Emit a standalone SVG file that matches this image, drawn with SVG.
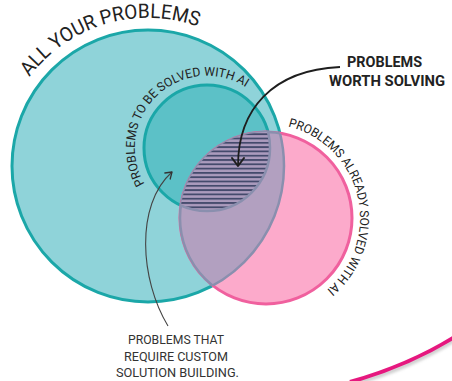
<svg xmlns="http://www.w3.org/2000/svg" width="452" height="381" viewBox="0 0 452 381">
  <style>
    .lbl { font-family: Roboto, "Noto Sans", "DejaVu Sans", sans-serif; fill: #222; }
    .arc1 { font-size: 20px; }
    .arc2 { font-size: 12.5px; }
    .arc3 { font-size: 12.5px; }
    .head { font-size: 15.5px; font-weight: 700; }
    .foot { font-size: 13px; fill: #333; }
    .overlap { stroke: #8a8fae; stroke-width: 2.5; fill: none; }
    .conn { fill: none; }
  </style>
  <defs>
    <clipPath id="clipBig"><circle cx="148" cy="166" r="136"/></clipPath>
    <clipPath id="clipPink"><circle cx="266" cy="218" r="86"/></clipPath>
    <pattern id="hatch" patternUnits="userSpaceOnUse" width="10" height="4.3">
      <rect width="10" height="4.3" fill="#ab9bbd"/>
      <rect width="10" height="1.8" fill="#444a6c"/>
    </pattern>
    <path id="pAll" d="M29.5,77 A148,148 0 0 1 222,37.8"/>
    <path id="pAI" d="M144.6,184 A72,72 0 0 1 253.3,92.8"/>
    <path id="pSolved" d="M288.1,126.6 A94,94 0 0 1 323.9,292.1"/>
    <marker id="chev" viewBox="-10 -8 12 16" markerWidth="12" markerHeight="16" refX="0" refY="0" orient="auto" markerUnits="userSpaceOnUse">
      <path d="M-8,-6 L0,0 L-8,6" fill="none" stroke="#1e1e1e" stroke-width="2" stroke-linecap="round" stroke-linejoin="round"/>
    </marker>
    <marker id="chevS" viewBox="-8 -6 10 12" markerWidth="10" markerHeight="12" refX="0" refY="0" orient="auto" markerUnits="userSpaceOnUse">
      <path d="M-6,-4 L0,0 L-6,4" fill="none" stroke="#333" stroke-width="1.3" stroke-linecap="round" stroke-linejoin="round"/>
    </marker>
    <filter id="blur" x="-10%" y="-50%" width="120%" height="200%">
      <feGaussianBlur stdDeviation="1.6"/>
    </filter>
  </defs>

  <rect width="452" height="381" fill="#ffffff"/>

  <g id="decoration">
    <path d="M350,385 Q410,368 456,339" fill="none" stroke="#999" stroke-width="4" opacity="0.5" filter="url(#blur)"/>
    <path d="M350,382 Q410,365 456,336" fill="none" stroke="#e6187f" stroke-width="4"/>
  </g>

  <g id="all-problems">
    <circle cx="148" cy="166" r="136" fill="#8fd3d9" stroke="#1ba7a8" stroke-width="3"/>
    <text class="lbl arc1"><textPath href="#pAll" textLength="188" lengthAdjust="spacingAndGlyphs">ALL YOUR PROBLEMS</textPath></text>
  </g>

  <g id="problems-to-be-solved-with-ai">
    <circle cx="207" cy="148" r="63" fill="#5cc1c7" stroke="#1aa7a8" stroke-width="3"/>
    <text class="lbl arc2"><textPath href="#pAI" textLength="192" lengthAdjust="spacingAndGlyphs">PROBLEMS TO BE SOLVED WITH AI</textPath></text>
  </g>

  <g id="problems-already-solved-with-ai">
    <circle cx="266" cy="218" r="86" fill="#fcaacb" stroke="#f0609e" stroke-width="3"/>
    <g clip-path="url(#clipBig)">
      <circle cx="266" cy="218" r="86" fill="#b2a0c0"/>
      <circle cx="266" cy="218" r="86" class="overlap"/>
    </g>
    <g clip-path="url(#clipPink)">
      <circle cx="148" cy="166" r="136" class="overlap"/>
    </g>
    <text class="lbl arc3"><textPath href="#pSolved" textLength="207" lengthAdjust="spacingAndGlyphs">PROBLEMS ALREADY SOLVED WITH AI</textPath></text>
  </g>

  <g id="problems-worth-solving">
    <g clip-path="url(#clipPink)">
      <circle cx="207" cy="148" r="63" fill="url(#hatch)"/>
      <circle cx="207" cy="148" r="63" class="overlap" stroke-width="2"/>
    </g>
    <text class="lbl head" x="347" y="67" textLength="75" lengthAdjust="spacingAndGlyphs">PROBLEMS</text>
    <text class="lbl head" x="329" y="86" textLength="116" lengthAdjust="spacingAndGlyphs">WORTH SOLVING</text>
  </g>

  <g id="custom-solution-label">
    <text class="lbl foot" x="128" y="344" textLength="96" lengthAdjust="spacingAndGlyphs">PROBLEMS THAT</text>
    <text class="lbl foot" x="124" y="361" textLength="104" lengthAdjust="spacingAndGlyphs">REQUIRE CUSTOM</text>
    <text class="lbl foot" x="116" y="377" textLength="123" lengthAdjust="spacingAndGlyphs">SOLUTION BUILDING.</text>
  </g>

  <g id="connectors">
    <path class="conn" d="M340,67 C272,70 238,110 238,166" stroke="#1e1e1e" stroke-width="1.8" marker-end="url(#chev)"/>
    <path class="conn" d="M168,326 C140,280 135,205 172,172" stroke="#444" stroke-width="1.1" marker-end="url(#chevS)"/>
  </g>
</svg>
